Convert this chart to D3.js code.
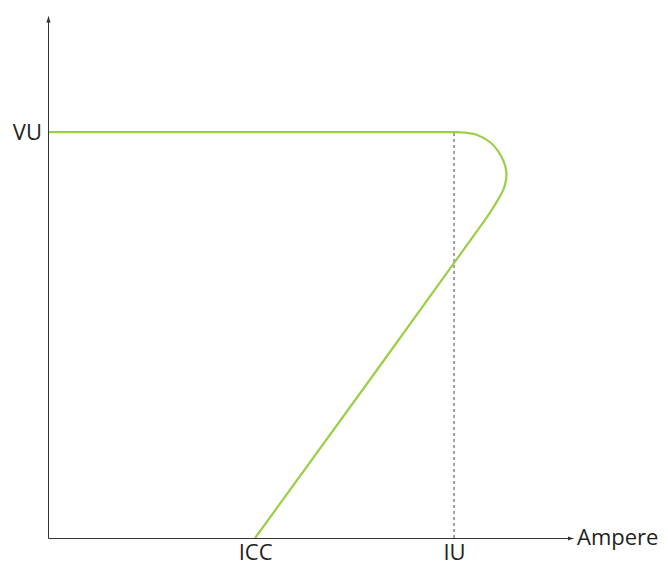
<!DOCTYPE html>
<html>
<head>
<meta charset="utf-8">
<script src="https://cdn.jsdelivr.net/npm/d3@7"></script>
<style>
  body { margin: 0; background: #fff; }
  text { font-family: "Open Sans", sans-serif; fill: #231f20; }
</style>
</head>
<body>
<div id="canvas"></div>
<script>
// current / voltage characteristic (units: VU = 1, IU = 1)
var curveAmp  = [0, 0.95, 1.0, 1.022, 1.057, 1.089, 1.108, 1.123, 1.129, 1.128, 1.121, 1.108, 1.094, 1.076, 0.51];
var curveVolt = [1.0, 1.0, 1.0, 0.999, 0.993, 0.975, 0.954, 0.926, 0.901, 0.882, 0.857, 0.833, 0.810, 0.783, 0];

var xTickValues = [0.51, 1.0];
var xTickLabels = ["ICC", "IU"];
var yTickValues = [1.0];
var yTickLabels = ["VU"];
var xAxisTitle = "Ampere";

var width = 668, height = 565;
var margin = { top: 16, right: 95, bottom: 27, left: 48 };

var x = d3.scaleLinear().domain([0, 1.293]).range([margin.left, width - margin.right]);
var y = d3.scaleLinear().domain([0, 1.286]).range([height - margin.bottom, margin.top]);

var svg = d3.select("#canvas").append("svg")
    .attr("width", width)
    .attr("height", height);

svg.append("defs").append("marker")
    .attr("id", "arrow")
    .attr("viewBox", "0 0 6 6")
    .attr("refX", 6)
    .attr("refY", 3)
    .attr("markerWidth", 6)
    .attr("markerHeight", 6)
    .attr("markerUnits", "userSpaceOnUse")
    .attr("orient", "auto")
  .append("path")
    .attr("d", "M0,0.8L6,3L0,5.2Z")
    .attr("fill", "#333");

// dashed guide at IU
svg.append("line")
    .attr("x1", x(xTickValues[1]))
    .attr("x2", x(xTickValues[1]))
    .attr("y1", y(0))
    .attr("y2", y(yTickValues[0]))
    .attr("stroke", "#444")
    .attr("stroke-width", 1)
    .attr("stroke-dasharray", "3,3");

var pts = curveAmp.map(function (d, i) { return [d, curveVolt[i]]; });

var line = d3.line()
    .x(function (d) { return x(d[0]); })
    .y(function (d) { return y(d[1]); })
    .curve(d3.curveCatmullRom.alpha(0.5));

svg.append("path")
    .datum(pts)
    .attr("d", line)
    .attr("fill", "none")
    .attr("stroke", "#9ccf48")
    .attr("stroke-width", 2.2);

var xAxis = svg.append("g")
    .attr("transform", "translate(0," + y(0) + ")")
    .call(d3.axisBottom(x)
        .tickValues(xTickValues)
        .tickSize(0)
        .tickPadding(6)
        .tickFormat(function (d, i) { return xTickLabels[i]; }));

var yAxis = svg.append("g")
    .attr("transform", "translate(" + x(0) + ",0)")
    .call(d3.axisLeft(y)
        .tickValues(yTickValues)
        .tickSize(0)
        .tickPadding(6)
        .tickFormat(function (d, i) { return yTickLabels[i]; }));

[xAxis, yAxis].forEach(function (g) {
    g.select(".domain")
        .attr("stroke", "#333")
        .attr("marker-end", "url(#arrow)");
    g.selectAll("text")
        .attr("font-size", "22px")
        .attr("font-family", "'Open Sans', sans-serif")
        .attr("fill", "#231f20");
});

xAxis.append("text")
    .attr("x", x(1.293) + 4)
    .attr("y", 7)
    .attr("text-anchor", "start")
    .attr("font-size", "22px")
    .attr("fill", "#231f20")
    .text(xAxisTitle);
</script>
</body>
</html>
